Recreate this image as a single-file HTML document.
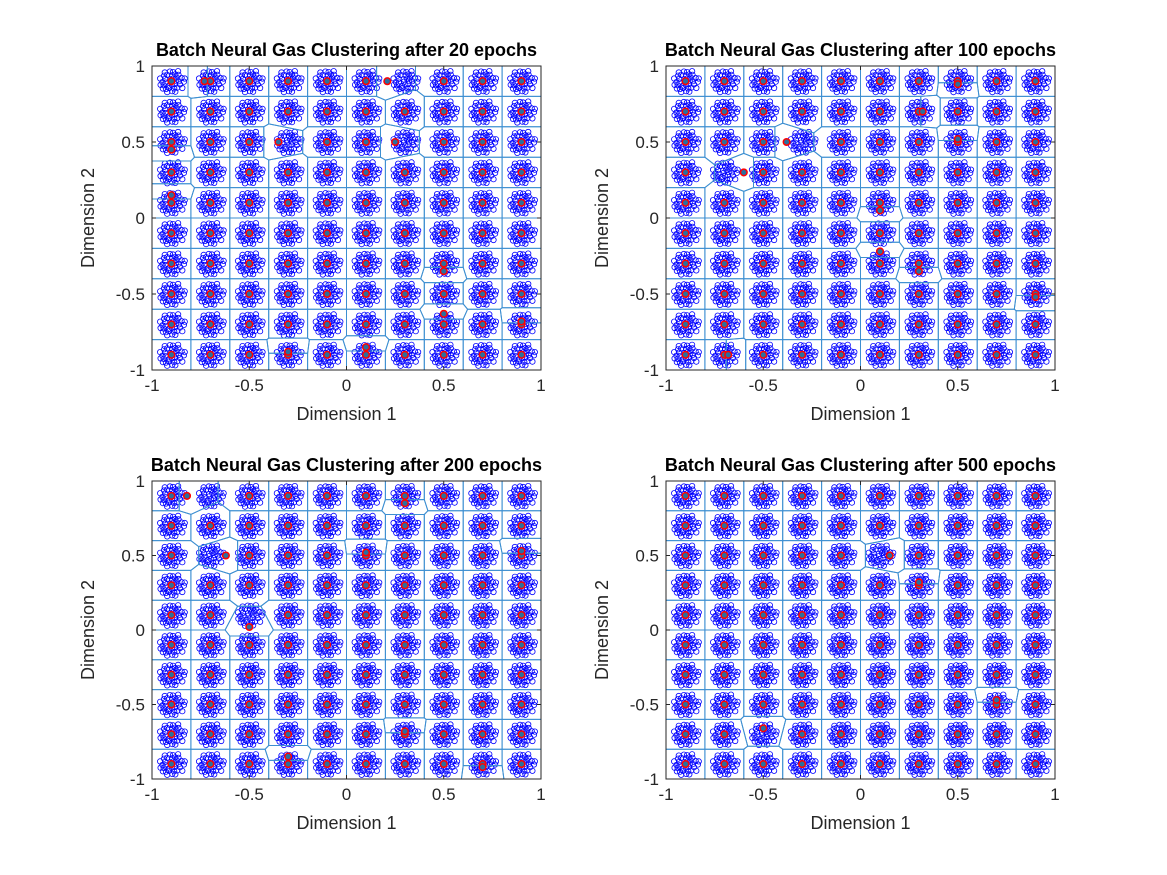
<!DOCTYPE html>
<html><head><meta charset="utf-8">
<style>
html,body{margin:0;padding:0;background:#fff;}
svg{display:block;font-family:"Liberation Sans",Arial,sans-serif;}
</style></head>
<body>
<svg id="fig" width="1167" height="875" viewBox="0 0 1167 875" xmlns="http://www.w3.org/2000/svg"></svg>
<script>
// ---- data ----
const panelTitles = ["Batch Neural Gas Clustering after 20 epochs","Batch Neural Gas Clustering after 100 epochs","Batch Neural Gas Clustering after 200 epochs","Batch Neural Gas Clustering after 500 epochs"];
const clusterCenters = [-0.9,-0.7,-0.5,-0.3,-0.1,0.1,0.3,0.5,0.7,0.9];
const xTicks = [-1,-0.5,0,0.5,1];
const yTicks = [-1,-0.5,0,0.5,1];
const xTickLabels = ["-1","-0.5","0","0.5","1"];
const yTickLabels = ["-1","-0.5","0","0.5","1"];
const extraProtos1 = [[0.21,0.9],[-0.73,0.9],[-0.35,0.5],[0.25,0.5],[-0.9,0.15],[-0.9,0.45],[0.5,-0.35],[0.5,-0.63],[0.1,-0.85],[-0.3,-0.88],[0.9,-0.68],[0.3,-0.1]];
const extraProtos2 = [[-0.38,0.5],[-0.6,0.3],[0.1,-0.22],[0.3,-0.35],[0.5,0.88],[-0.68,-0.9],[0.32,0.7],[0.9,-0.52],[0.1,0.05],[0.5,0.52]];
const extraProtos3 = [[-0.82,0.9],[-0.62,0.5],[-0.5,0.02],[0.3,0.85],[-0.3,-0.85],[0.9,0.53],[0.3,-0.68],[0.1,0.52],[0.7,-0.92]];
const extraProtos4 = [[0.15,0.5],[-0.5,-0.66],[0.3,0.32],[0.7,-0.47],[0.5,0.5],[0.9,0.7],[-0.1,0.3],[0.3,-0.1]];
const extraList = [extraProtos1,extraProtos2,extraProtos3,extraProtos4];
const removed = [[[0.3,0.9],[-0.3,0.5],[0.3,0.5]],[[-0.3,0.5],[-0.7,0.3]],[[-0.7,0.9],[-0.7,0.5],[-0.5,0.1]],[[0.1,0.5],[-0.5,-0.7]]];

const panels = [
 {l:152,r:541,t:66,b:370},
 {l:666,r:1055,t:66,b:370},
 {l:152,r:541,t:481,b:779},
 {l:666,r:1055,t:481,b:779}
];
const NS="http://www.w3.org/2000/svg";
const svg=document.getElementById('fig');
function mk(tag,attrs,parent){const e=document.createElementNS(NS,tag);for(const k in attrs)e.setAttribute(k,attrs[k]);(parent||svg).appendChild(e);return e;}

const blob=[];
for(let r=-4;r<=4;r++){for(let c=-4;c<=4;c++){const x=(c+(r%2?0.5:0))*0.02+((r*7+c*3)%5-2)*0.002,y=r*0.021+((r*3+c*5)%3-1)*0.003;if((x/0.07)**2+(y/0.08)**2<=1)blob.push([x,y]);}}

function clip(poly,a,b,c){
 const out=[];for(let i=0;i<poly.length;i++){const p=poly[i],q=poly[(i+1)%poly.length];const fp=a*p[0]+b*p[1]-c,fq=a*q[0]+b*q[1]-c;
 if(fp<=0)out.push(p);if((fp<0&&fq>0)||(fp>0&&fq<0)){const t=fp/(fp-fq);out.push([p[0]+t*(q[0]-p[0]),p[1]+t*(q[1]-p[1])]);}}return out;}

panels.forEach((P,pi)=>{
 const g=mk('g',{});
 
 
 const sx=v=>P.l+(v+1)/2*(P.r-P.l), sy=v=>P.b-(v+1)/2*(P.b-P.t);
 const rem=removed[pi];
 const protos=[];
 clusterCenters.forEach(cx=>clusterCenters.forEach(cy=>{if(!rem.some(q=>Math.abs(q[0]-cx)<1e-6&&Math.abs(q[1]-cy)<1e-6))protos.push([cx,cy]);}));
 extraList[pi].forEach(p=>protos.push(p));
 const pts=mk('g',{fill:'none',stroke:'#0000ff','stroke-width':'0.8'},g);
 
 
 clusterCenters.forEach(cx=>clusterCenters.forEach(cy=>{
  blob.forEach(o=>{mk('circle',{cx:sx(cx+o[0]).toFixed(1),cy:sy(cy+o[1]).toFixed(1),r:2.7},pts);});
 }));
 const vg=mk('g',{fill:'none',stroke:'#3d8fd1','stroke-width':'1'},g);
 
 
 protos.forEach((p,i)=>{
  let poly=[[-1,-1],[1,-1],[1,1],[-1,1]];
  protos.forEach((q,j)=>{if(i===j)return;const dx=q[0]-p[0],dy=q[1]-p[1];if(Math.abs(dx)>0.5||Math.abs(dy)>0.5)return;
   poly=clip(poly,dx,dy,(q[0]*q[0]+q[1]*q[1]-p[0]*p[0]-p[1]*p[1])/2);});
  if(poly.length>2){const e=mk('polygon',{points:poly.map(v=>sx(v[0]).toFixed(1)+','+sy(v[1]).toFixed(1)).join(' ')},vg);
   
   }
 });
 const pg=mk('g',{fill:'#2a6f9e',stroke:'#ff0000','stroke-width':'1.5'},g);
 
 
 protos.forEach(p=>{const c=mk('circle',{cx:sx(p[0]).toFixed(1),cy:sy(p[1]).toFixed(1),r:3.3},pg);
  
  });
 const box=mk('rect',{x:P.l,y:P.t,width:P.r-P.l,height:P.b-P.t,fill:'none',stroke:'#262626','stroke-width':'1'},g);
 
 
 xTicks.forEach((v,k)=>{const x=sx(v);
  mk('line',{x1:x,x2:x,y1:P.b,y2:P.b-4,stroke:'#262626'},g);mk('line',{x1:x,x2:x,y1:P.t,y2:P.t+4,stroke:'#262626'},g);
  const t=mk('text',{x:x,y:P.b+21,'text-anchor':'middle','font-size':'17',fill:'#262626'},g);t.textContent=xTickLabels[k];
  
  });
 yTicks.forEach((v,k)=>{const y=sy(v);
  mk('line',{x1:P.l,x2:P.l+4,y1:y,y2:y,stroke:'#262626'},g);mk('line',{x1:P.r,x2:P.r-4,y1:y,y2:y,stroke:'#262626'},g);
  const t=mk('text',{x:P.l-7,y:y+6,'text-anchor':'end','font-size':'17',fill:'#262626'},g);t.textContent=yTickLabels[k];
  
  });
 const xl=mk('text',{x:(P.l+P.r)/2,y:P.b+50,'text-anchor':'middle','font-size':'18',fill:'#262626'},g);xl.textContent='Dimension 1';
 
 
 const ym=(P.t+P.b)/2;
 const yl=mk('text',{x:P.l-58,y:ym,'text-anchor':'middle','font-size':'18',fill:'#262626',transform:`rotate(-90 ${P.l-58} ${ym})`},g);yl.textContent='Dimension 2';
 
 
 const tt=mk('text',{x:(P.l+P.r)/2,y:P.t-10,'text-anchor':'middle','font-size':'18','font-weight':'bold',fill:'#000'},g);tt.textContent=panelTitles[pi];
 
 
});
</script>
</body></html>
